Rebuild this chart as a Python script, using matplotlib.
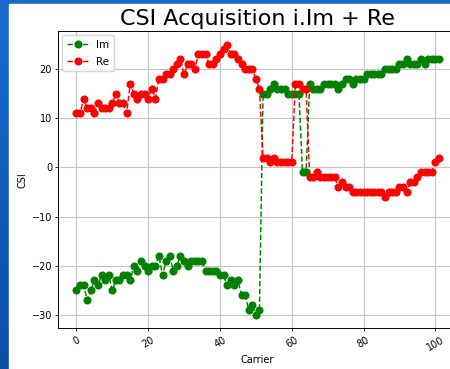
import matplotlib.pyplot as plt
import numpy as np
from matplotlib.patches import Rectangle

# CSI samples per carrier
re_vals = [11, 11, 14, 12, 12, 11, 13, 12, 12, 12,
           13, 15, 13, 13, 11, 17, 15, 14, 15, 15,
           14, 16, 14, 18, 18, 19, 19, 20, 21, 22,
           19, 21, 21, 20, 23, 23, 23, 21, 21, 22,
           23, 24, 25, 23, 23, 22, 21, 20, 20, 20,
           18, 16, 2, 2, 1, 2, 1, 1, 1, 1,
           1, 17, 17, 16, 16, -2, -2, -1, -2, -2,
           -2, -2, -2, -4, -3, -4, -4, -5, -5, -5,
           -5, -5, -5, -5, -5, -5, -6, -5, -5, -5,
           -4, -4, -5, -3, -3, -2, -1, -1, -1, -1,
           1, 2]
im_vals = [-25, -24, -24, -27, -25, -23, -24, -22, -23, -22,
           -25, -23, -23, -22, -22, -23, -20, -21, -19, -20,
           -21, -20, -20, -18, -22, -19, -18, -21, -20, -18,
           -19, -20, -19, -19, -19, -19, -21, -21, -21, -21,
           -22, -22, -24, -23, -24, -23, -26, -26, -29, -28,
           -30, -29, 15, 15, 16, 17, 16, 16, 16, 15,
           15, 15, 15, -1, -1, 17, 16, 16, 16, 17,
           17, 17, 17, 16, 17, 18, 18, 17, 18, 18,
           18, 19, 19, 19, 19, 19, 20, 20, 20, 20,
           21, 21, 22, 21, 21, 21, 22, 21, 22, 22,
           22, 22]
carrier = np.arange(len(re_vals))

W, H = 450, 369
fig = plt.figure(figsize=(W / 100, H / 100), dpi=100)

# blue slide background with the chart pasted on top
bg = fig.add_axes([0, 0, 1, 1])
grad = np.linspace(0, 1, 256).reshape(-1, 1)
bg.imshow(grad, cmap=plt.matplotlib.colors.LinearSegmentedColormap.from_list(
    "slide", ["#1a6ad0", "#0c4ea6"]), aspect="auto", extent=[0, 1, 0, 1])
bg.add_patch(Rectangle((9 / W, 0), 1, 1 - 4 / H, color="white", zorder=2))
bg.set_xlim(0, 1)
bg.set_ylim(0, 1)
bg.axis("off")

ax = fig.add_axes([58.3 / W, (H - 328.3) / H, (457 - 58.3) / W, (328.3 - 31) / H])
ax.plot(carrier, im_vals, "g--o", label="Im", markersize=4.8, linewidth=1.05)
ax.plot(carrier, re_vals, "r--o", label="Re", markersize=4.8, linewidth=1.05)

ax.set_title("CSI Acquisition i.Im + Re", fontsize=16, pad=4)
ax.set_xlabel("Carrier", fontsize=7, labelpad=2)
ax.set_ylabel("CSI", fontsize=7, labelpad=3)
ax.tick_params(labelsize=7, length=2.5, width=0.6, pad=2)
plt.setp(ax.get_xticklabels(), rotation=30)
for s in ax.spines.values():
    s.set_linewidth(0.7)
ax.grid(True, color="#c4c4c4", linewidth=0.8)
ax.legend(loc="upper left", fontsize=7.5, borderpad=0.45, handlelength=2.0,
          labelspacing=0.65, borderaxespad=0.4)

fig.savefig("out.png", dpi=100)
